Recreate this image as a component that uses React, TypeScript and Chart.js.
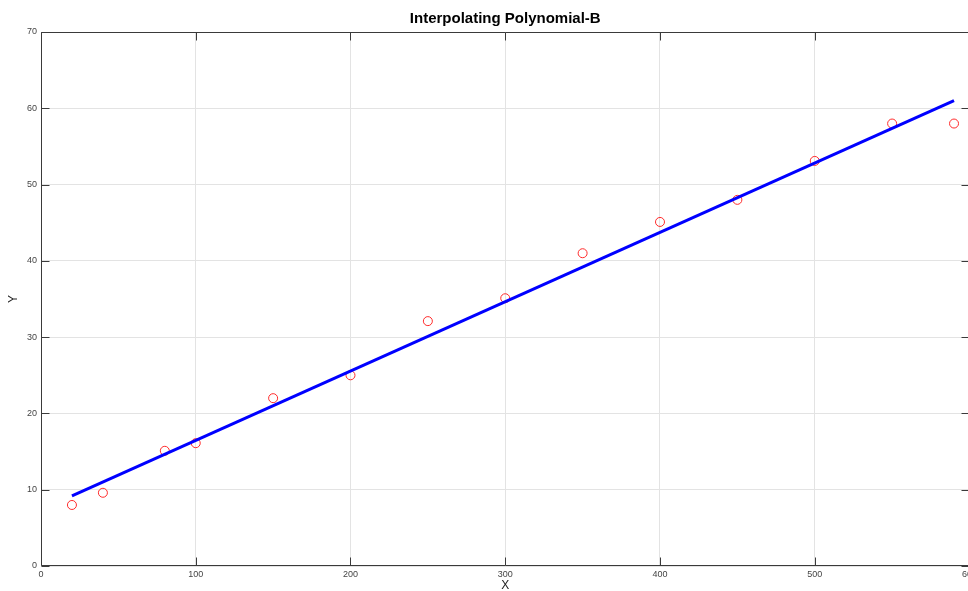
import React, { useEffect, useRef } from "react";
import { Chart, registerables } from "chart.js";

Chart.register(...registerables);

const TITLE = "Interpolating Polynomial-B";
const X_LABEL = "X";
const Y_LABEL = "Y";

const sampleX = [20, 40, 80, 100, 150, 200, 250, 300, 350, 400, 450, 500, 550, 590];
const sampleY = [8, 9.6, 15.1, 16.1, 22, 25, 32.1, 35.1, 41, 45.1, 48, 53.1, 58, 58];

const fitX = [20, 590];
const fitY = [9.2, 61.0];

const X_MIN = 0;
const X_MAX = 600;
const X_STEP = 100;
const Y_MIN = 0;
const Y_MAX = 70;
const Y_STEP = 10;

const FONT = "'Liberation Sans', Arial, Helvetica, sans-serif";

const framePlugin = {
  id: "frameTicks",
  beforeDatasetsDraw(chart: any) {
    const { ctx, chartArea } = chart;
    const xs = chart.scales.x;
    const ys = chart.scales.y;
    const a = (v: number) => Math.round(v) + 0.5;
    const L = a(chartArea.left);
    const R = a(chartArea.right);
    const T = a(chartArea.top);
    const B = a(chartArea.bottom) - 1;
    ctx.save();
    ctx.strokeStyle = "#3a3a3a";
    ctx.lineWidth = 1;
    ctx.beginPath();
    ctx.rect(L, T, R - L, B - T);
    ctx.stroke();
    const len = 8;
    ctx.beginPath();
    for (let v = X_MIN; v <= X_MAX; v += X_STEP) {
      const px = a(xs.getPixelForValue(v));
      ctx.moveTo(px, B);
      ctx.lineTo(px, B - len);
      ctx.moveTo(px, T);
      ctx.lineTo(px, T + len);
    }
    for (let v = Y_MIN; v <= Y_MAX; v += Y_STEP) {
      const py = a(ys.getPixelForValue(v));
      ctx.moveTo(L, py);
      ctx.lineTo(L + len, py);
      ctx.moveTo(R, py);
      ctx.lineTo(R - len, py);
    }
    ctx.stroke();
    ctx.restore();
  },
};

export default function App() {
  const ref = useRef<HTMLCanvasElement | null>(null);

  useEffect(() => {
    if (!ref.current) return;
    Chart.defaults.font.family = FONT;
    const chart = new Chart(ref.current, {
      type: "scatter",
      data: {
        datasets: [
          {
            label: "fit",
            data: fitX.map((x, i) => ({ x, y: fitY[i] })),
            showLine: true,
            borderColor: "#0000ff",
            borderWidth: 3,
            pointRadius: 0,
            fill: false,
          },
          {
            label: "data",
            data: sampleX.map((x, i) => ({ x, y: sampleY[i] })),
            showLine: false,
            pointStyle: "circle",
            pointRadius: 4.5,
            pointBorderWidth: 1,
            borderColor: "#ff2a2a",
            backgroundColor: "rgba(0,0,0,0)",
            pointBackgroundColor: "rgba(0,0,0,0)",
            pointBorderColor: "#ff2a2a",
          },
        ],
      },
      options: {
        responsive: false,
        animation: false,
        devicePixelRatio: 1,
        layout: { padding: 0 },
        plugins: {
          legend: { display: false },
          tooltip: { enabled: false },
          title: {
            display: true,
            text: TITLE,
            fullSize: false,
            color: "#000",
            font: { size: 15, weight: "bold", family: FONT },
            padding: { top: 10, bottom: 4 },
          },
        },
        scales: {
          x: {
            type: "linear",
            min: X_MIN,
            max: X_MAX,
            ticks: {
              stepSize: X_STEP,
              color: "#444",
              font: { size: 9 },
              padding: 3,
              maxRotation: 0,
            },
            grid: { color: "#e3e3e3", drawTicks: false },
            border: { display: false },
            title: {
              display: true,
              text: X_LABEL,
              color: "#222",
              font: { size: 12, lineHeight: 1 },
              padding: { top: 0, bottom: -1 },
            },
            afterFit: (s: any) => {
              s.height = 25;
            },
          },
          y: {
            type: "linear",
            min: Y_MIN,
            max: Y_MAX,
            ticks: {
              stepSize: Y_STEP,
              color: "#444",
              font: { size: 9 },
              padding: 4,
            },
            grid: { color: "#e3e3e3", drawTicks: false },
            border: { display: false },
            title: {
              display: true,
              text: Y_LABEL,
              color: "#222",
              font: { size: 12, lineHeight: 1 },
              padding: { top: 8, bottom: 0 },
            },
            afterFit: (s: any) => {
              s.width = 41;
            },
          },
        },
      },
      plugins: [framePlugin],
    } as any);
    return () => chart.destroy();
  }, []);

  return (
    <div
      style={{
        position: "fixed",
        left: 0,
        top: 0,
        width: 968,
        height: 591,
        overflow: "hidden",
        background: "#fff",
      }}
    >
      <canvas ref={ref} width={980} height={591} style={{ width: 980, height: 591, display: "block" }} />
    </div>
  );
}
